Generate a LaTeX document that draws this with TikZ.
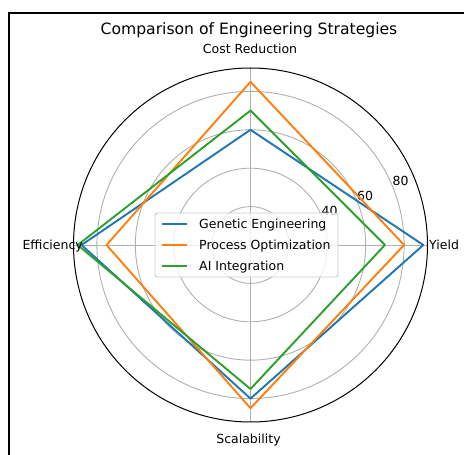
\documentclass[tikz,border=0pt]{standalone}
\usepackage{fontspec}
\setmainfont{DejaVu Sans}
\definecolor{tabblue}{HTML}{1F77B4}
\definecolor{taborange}{HTML}{FF7F0E}
\definecolor{tabgreen}{HTML}{2CA02C}
\definecolor{gridgray}{HTML}{B0B0B0}
\definecolor{legedge}{HTML}{CCCCCC}
\tikzset{
  gridline/.style={draw=gridgray, line width=0.9pt},
  series/.style={line width=1.9pt, line join=round},
  ticklab/.style={inner sep=0pt, font=\fontsize{12.5}{15}\selectfont},
  titlelab/.style={inner sep=0pt, font=\fontsize{15.6}{18}\selectfont},
}
\begin{document}
\begin{tikzpicture}[x=1pt,y=1pt]
\useasboundingbox (0,0) rectangle (464,455);
\fill[white] (0,0) rectangle (464,455);
% frame
\draw[line width=2pt] (9,0) -- (9,442) -- (464,442);
% polar grid
\def\k{1.92}
\begin{scope}[shift={(250.5,210)}]
  \coordinate (c) at (0,0);
  \foreach \r in {20,40,60,80} {\draw[gridline] (c) circle ({\r*\k});}
  \foreach \a in {0,90,180,270} {\draw[gridline] (c) -- (\a:177);}
  \draw[black, line width=1pt] (c) circle (177);
  \foreach \r in {40,60,80} {\node[ticklab, anchor=south west] (r\r) at (22.5:{\r*\k}) {\r};}
  % series
  \draw[series, tabblue] (0:{90*\k}) -- (90:{60*\k}) -- (180:{88*\k}) -- (270:{80*\k}) -- cycle;
  \draw[series, taborange] (0:{80*\k}) -- (90:{85*\k}) -- (180:{75*\k}) -- (270:{85*\k}) -- cycle;
  \draw[series, tabgreen] (0:{70*\k}) -- (90:{70*\k}) -- (180:{90*\k}) -- (270:{75*\k}) -- cycle;
\end{scope}
% axis labels
\node[titlelab, anchor=base] (title) at (249,420.5) {Comparison of Engineering Strategies};
\node[ticklab, anchor=base] (cost) at (250,401) {Cost Reduction};
\node[ticklab, anchor=base] (scal) at (248.5,11) {Scalability};
\node[ticklab, anchor=base west] (yield) at (429,205.5) {Yield};
\node[ticklab, anchor=base east] (eff) at (83,205.5) {Efficiency};
% legend
\draw[draw=legedge, fill=white, fill opacity=0.8, rounded corners=2.5pt, line width=0.9pt] (155,178) rectangle (338,242);
\coordinate (l1a) at (162,231); \coordinate (l1b) at (187,231);
\coordinate (l2a) at (162,210); \coordinate (l2b) at (187,210);
\coordinate (l3a) at (162,189); \coordinate (l3b) at (187,189);
\draw[series, tabblue] (l1a) -- (l1b);
\draw[series, taborange] (l2a) -- (l2b);
\draw[series, tabgreen] (l3a) -- (l3b);
\node[ticklab, anchor=base west] (lg1) at (199,226.5) {Genetic Engineering};
\node[ticklab, anchor=base west] (lg2) at (199,205.5) {Process Optimization};
\node[ticklab, anchor=base west] (lg3) at (199,184.5) {AI Integration};
\end{tikzpicture}
\end{document}
